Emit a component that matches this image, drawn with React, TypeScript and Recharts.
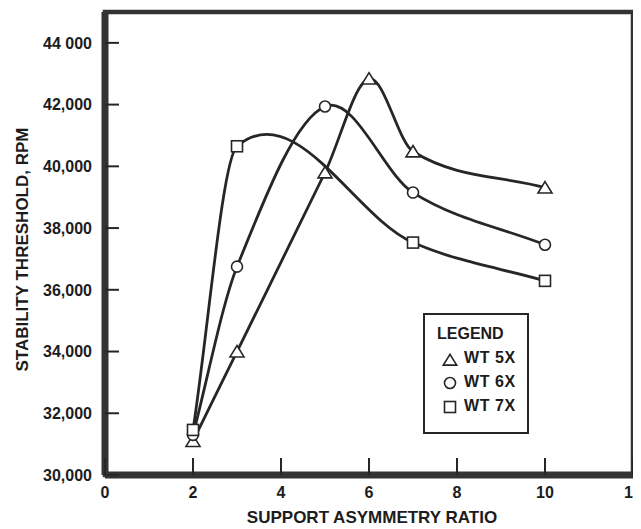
import {
  LineChart,
  Line,
  XAxis,
  YAxis,
  ReferenceArea,
  Legend,
} from 'recharts';

// values
const xTicks = [0, 2, 4, 6, 8, 10, 12];
const xTickLabels = ['0', '2', '4', '6', '8', '10', '12'];
const yTicks = [30000, 32000, 34000, 36000, 38000, 40000, 42000, 44000];
const yTickLabels = ['30,000', '32,000', '34,000', '36,000', '38,000', '40,000', '42,000', '44 000'];

const seriesNames = ['WT 5X', 'WT 6X', 'WT 7X'];

const ratioWT5 = [2, 3, 5, 6, 7, 10];
const rpmWT5 = [31100, 34000, 39800, 42840, 40480, 39310];

const ratioWT6 = [2, 3, 5, 7, 10];
const rpmWT6 = [31300, 36750, 41940, 39150, 37460];

const ratioWT7 = [2, 3, 7, 10];
const rpmWT7 = [31460, 40650, 37530, 36290];

const toRows = (xs: number[], ys: number[]) => xs.map((x, i) => ({ x, y: ys[i] }));

const INK = '#262626';
const FONT = '"Liberation Sans", Arial, Helvetica, sans-serif';
const Y_TICK_MARGIN = 13;
const X_TICK_MARGIN = 17;

// smooth hand-drawn-looking curve: cubic hermite, central-difference slopes inside,
// secant slopes at both ends
function hermiteCurve(context: any) {
  let xs: number[] = [];
  let ys: number[] = [];
  return {
    areaStart() {},
    areaEnd() {},
    lineStart() {
      xs = [];
      ys = [];
    },
    point(x: number, y: number) {
      xs.push(+x);
      ys.push(+y);
    },
    lineEnd() {
      const n = xs.length;
      if (!n) return;
      context.moveTo(xs[0], ys[0]);
      if (n === 1) return;
      if (n === 2) {
        context.lineTo(xs[1], ys[1]);
        return;
      }
      const m: number[] = new Array(n);
      for (let i = 1; i < n - 1; i++) {
        m[i] = (ys[i + 1] - ys[i - 1]) / (xs[i + 1] - xs[i - 1]);
      }
      m[0] = (ys[1] - ys[0]) / (xs[1] - xs[0]);
      m[n - 1] = (ys[n - 1] - ys[n - 2]) / (xs[n - 1] - xs[n - 2]);
      for (let i = 0; i < n - 1; i++) {
        const d = (xs[i + 1] - xs[i]) / 3;
        context.bezierCurveTo(
          xs[i] + d,
          ys[i] + m[i] * d,
          xs[i + 1] - d,
          ys[i + 1] - m[i + 1] * d,
          xs[i + 1],
          ys[i + 1],
        );
      }
    },
  };
}

function TriangleMark({ cx, cy, size = 1 }: { cx?: number; cy?: number; size?: number }) {
  if (cx == null || cy == null) return null;
  const w = 7 * size;
  const h = 6 * size;
  return (
    <polygon
      points={`${cx},${cy - h} ${cx + w},${cy + h * 0.9} ${cx - w},${cy + h * 0.9}`}
      fill="#fff"
      stroke={INK}
      strokeWidth={1.6}
    />
  );
}

function CircleMark({ cx, cy }: { cx?: number; cy?: number }) {
  if (cx == null || cy == null) return null;
  return <circle cx={cx} cy={cy} r={5.5} fill="#fff" stroke={INK} strokeWidth={1.6} />;
}

function SquareMark({ cx, cy }: { cx?: number; cy?: number }) {
  if (cx == null || cy == null) return null;
  return <rect x={cx - 5.5} y={cy - 5.5} width={11} height={11} fill="#fff" stroke={INK} strokeWidth={1.6} />;
}

function YTick(props: any) {
  const { x, y, payload } = props;
  const ax = x + Y_TICK_MARGIN;
  return (
    <g>
      <line x1={ax} x2={ax + 14} y1={y} y2={y} stroke={INK} strokeWidth={2} />
      <text x={x} y={y} dy="0.36em" textAnchor="end" fontFamily={FONT} fontWeight={700} fontSize={16} fill="#1c1c1c">
        {yTickLabels[yTicks.indexOf(payload.value)]}
      </text>
    </g>
  );
}

function XTick(props: any) {
  const { x, y, payload } = props;
  const ay = y - X_TICK_MARGIN;
  return (
    <g>
      <line x1={x} x2={x} y1={ay} y2={ay - 17} stroke={INK} strokeWidth={2} />
      <text x={x} y={y} dy="0.36em" textAnchor="middle" fontFamily={FONT} fontWeight={700} fontSize={16} fill="#1c1c1c">
        {xTickLabels[xTicks.indexOf(payload.value)]}
      </text>
    </g>
  );
}

function XTitle({ viewBox }: any) {
  return (
    <text
      x={viewBox.x + viewBox.width / 2 + 3}
      y={viewBox.y + 48}
      textAnchor="middle"
      fontFamily={FONT}
      fontWeight={700}
      fontSize={17}
      fill="#1c1c1c"
    >
      SUPPORT ASYMMETRY RATIO
    </text>
  );
}

function YTitle({ viewBox }: any) {
  const cx = 14;
  const cy = viewBox.y + viewBox.height / 2 + 6;
  return (
    <text
      x={cx}
      y={cy}
      dy="0.36em"
      transform={`rotate(-90 ${cx} ${cy})`}
      textAnchor="middle"
      fontFamily={FONT}
      fontWeight={700}
      fontSize={17}
      fill="#1c1c1c"
    >
      STABILITY THRESHOLD, RPM
    </text>
  );
}

function LegendIcon({ kind }: { kind: number }) {
  return (
    <svg width={16} height={16} style={{ verticalAlign: 'middle', marginRight: 6 }}>
      {kind === 0 && <TriangleMark cx={8} cy={9} size={0.95} />}
      {kind === 1 && <circle cx={8} cy={8} r={5.5} fill="#fff" stroke={INK} strokeWidth={1.6} />}
      {kind === 2 && <rect x={2.5} y={2.5} width={11} height={11} fill="#fff" stroke={INK} strokeWidth={1.6} />}
    </svg>
  );
}

function LegendBox() {
  return (
    <div
      style={{
        width: 102,
        height: 110,
        border: `2px solid ${INK}`,
        background: '#fff',
        fontFamily: FONT,
        fontWeight: 700,
        color: '#1c1c1c',
        paddingTop: 7,
        boxSizing: 'content-box',
      }}
    >
      <div style={{ height: 24, lineHeight: '24px', fontSize: 16, paddingLeft: 12 }}>LEGEND</div>
      {seriesNames.map((name, i) => (
        <div key={name} style={{ height: 24, lineHeight: '24px', fontSize: 16, paddingLeft: 17, letterSpacing: 0.6 }}>
          <LegendIcon kind={i} />
          {name}
        </div>
      ))}
    </div>
  );
}

export default function App() {
  return (
    <LineChart width={633} height={521} margin={{ top: 4, right: 8, bottom: 0, left: 0 }}>
      <XAxis
        type="number"
        dataKey="x"
        domain={[0, 12]}
        ticks={xTicks}
        tickSize={0}
        tickMargin={X_TICK_MARGIN}
        tick={<XTick />}
        height={54}
        axisLine={{ stroke: '#333', strokeWidth: 7 }}
        tickLine={false}
        label={<XTitle />}
      />
      <YAxis
        type="number"
        dataKey="y"
        domain={[30000, 45000]}
        ticks={yTicks}
        tickSize={0}
        tickMargin={Y_TICK_MARGIN}
        tick={<YTick />}
        width={97}
        axisLine={{ stroke: '#333', strokeWidth: 7 }}
        tickLine={false}
        label={<YTitle />}
      />
      <ReferenceArea x1={0} x2={12} y1={30000} y2={45000} fill="none" stroke="#333" strokeWidth={4.5} ifOverflow="visible" />
      <Line
        name={seriesNames[0]}
        data={toRows(ratioWT5, rpmWT5)}
        dataKey="y"
        type={hermiteCurve as any}
        stroke={INK}
        strokeWidth={2.8}
        dot={<TriangleMark />}
        activeDot={false}
        isAnimationActive={false}
      />
      <Line
        name={seriesNames[1]}
        data={toRows(ratioWT6, rpmWT6)}
        dataKey="y"
        type={hermiteCurve as any}
        stroke={INK}
        strokeWidth={2.8}
        dot={<CircleMark />}
        activeDot={false}
        isAnimationActive={false}
      />
      <Line
        name={seriesNames[2]}
        data={toRows(ratioWT7, rpmWT7)}
        dataKey="y"
        type={hermiteCurve as any}
        stroke={INK}
        strokeWidth={2.8}
        dot={<SquareMark />}
        activeDot={false}
        isAnimationActive={false}
      />
      <Legend
        layout="vertical"
        align="center"
        verticalAlign="middle"
        wrapperStyle={{ left: 415, top: 305, width: 106 }}
        content={<LegendBox />}
      />
    </LineChart>
  );
}
